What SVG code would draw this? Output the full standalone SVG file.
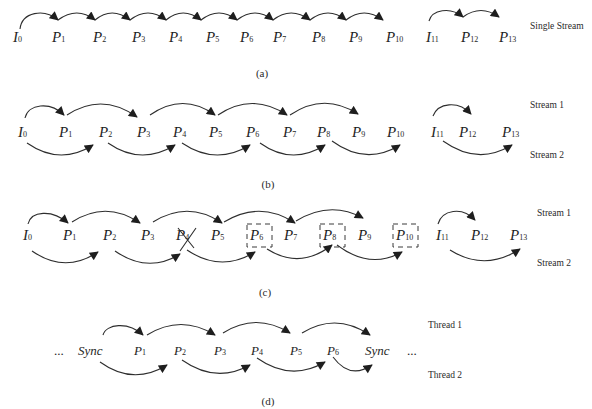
<svg xmlns="http://www.w3.org/2000/svg" width="592" height="409" viewBox="0 0 592 409">
<style>
.bg{fill:#ffffff}
text{font-family:'Liberation Serif','Times New Roman','DejaVu Serif',serif}
.p{font-style:italic;font-size:15px;fill:#1e1e1e}
.pd{font-style:italic;font-size:13px;fill:#1e1e1e}
.s{font-size:8px;font-style:normal}
.lbl{font-size:9.5px;fill:#2a2a2a}
.cap{font-size:11px;fill:#2a2a2a}
.arc{fill:none;stroke:#2e2e2e;stroke-width:1.1;marker-end:url(#ah)}
.ln{fill:none;stroke:#2e2e2e;stroke-width:1.1}
.box{fill:none;stroke:#3a3a3a;stroke-width:1;stroke-dasharray:5 4}
</style>
<defs>
<marker id="ah" viewBox="0 0 10 10" refX="9" refY="5" markerWidth="10" markerHeight="9" markerUnits="userSpaceOnUse" orient="auto">
<path d="M0,0 L10,5 L0,10 z" fill="#1e1e1e"/>
</marker>
</defs>
<rect class="bg" width="592" height="409"/>

<!-- Row (a) -->
<g id="a-I0"><text class="p" x="13" y="42">I<tspan class="s">0</tspan></text></g>
<g id="a-P1"><text class="p" x="52" y="42">P<tspan class="s">1</tspan></text></g>
<g id="a-P2"><text class="p" x="93" y="42">P<tspan class="s">2</tspan></text></g>
<g id="a-P3"><text class="p" x="132" y="42">P<tspan class="s">3</tspan></text></g>
<g id="a-P4"><text class="p" x="169" y="42">P<tspan class="s">4</tspan></text></g>
<g id="a-P5"><text class="p" x="206" y="42">P<tspan class="s">5</tspan></text></g>
<g id="a-P6"><text class="p" x="240" y="42">P<tspan class="s">6</tspan></text></g>
<g id="a-P7"><text class="p" x="273" y="42">P<tspan class="s">7</tspan></text></g>
<g id="a-P8"><text class="p" x="312" y="42">P<tspan class="s">8</tspan></text></g>
<g id="a-P9"><text class="p" x="349" y="42">P<tspan class="s">9</tspan></text></g>
<g id="a-P10"><text class="p" x="386" y="42">P<tspan class="s">10</tspan></text></g>
<g id="a-I11"><text class="p" x="426" y="42">I<tspan class="s">11</tspan></text></g>
<g id="a-P12"><text class="p" x="461" y="42">P<tspan class="s">12</tspan></text></g>
<g id="a-P13"><text class="p" x="499" y="42">P<tspan class="s">13</tspan></text></g>
<g id="a-label"><text class="lbl" x="530" y="29">Single Stream</text></g>
<g id="a-cap"><text class="cap" x="262" y="77" text-anchor="middle">(a)</text></g>

<!-- Row (b) -->
<g id="b-I0"><text class="p" x="18" y="137">I<tspan class="s">0</tspan></text></g>
<g id="b-P1"><text class="p" x="59" y="137">P<tspan class="s">1</tspan></text></g>
<g id="b-P2"><text class="p" x="99" y="137">P<tspan class="s">2</tspan></text></g>
<g id="b-P3"><text class="p" x="137" y="137">P<tspan class="s">3</tspan></text></g>
<g id="b-P4"><text class="p" x="173" y="137">P<tspan class="s">4</tspan></text></g>
<g id="b-P5"><text class="p" x="209" y="137">P<tspan class="s">5</tspan></text></g>
<g id="b-P6"><text class="p" x="246" y="137">P<tspan class="s">6</tspan></text></g>
<g id="b-P7"><text class="p" x="283" y="137">P<tspan class="s">7</tspan></text></g>
<g id="b-P8"><text class="p" x="317" y="137">P<tspan class="s">8</tspan></text></g>
<g id="b-P9"><text class="p" x="352" y="137">P<tspan class="s">9</tspan></text></g>
<g id="b-P10"><text class="p" x="387" y="137">P<tspan class="s">10</tspan></text></g>
<g id="b-I11"><text class="p" x="431" y="137">I<tspan class="s">11</tspan></text></g>
<g id="b-P12"><text class="p" x="459" y="137">P<tspan class="s">12</tspan></text></g>
<g id="b-P13"><text class="p" x="502" y="137">P<tspan class="s">13</tspan></text></g>
<g id="b-s1"><text class="lbl" x="530" y="108">Stream 1</text></g>
<g id="b-s2"><text class="lbl" x="530" y="158">Stream 2</text></g>
<g id="b-cap"><text class="cap" x="268" y="188" text-anchor="middle">(b)</text></g>

<!-- Row (c) -->
<g id="c-I0"><text class="p" x="23" y="240">I<tspan class="s">0</tspan></text></g>
<g id="c-P1"><text class="p" x="63" y="240">P<tspan class="s">1</tspan></text></g>
<g id="c-P2"><text class="p" x="103" y="240">P<tspan class="s">2</tspan></text></g>
<g id="c-P3"><text class="p" x="141" y="240">P<tspan class="s">3</tspan></text></g>
<g id="c-P4"><text class="p" x="176" y="240">P<tspan class="s">4</tspan></text>
<path class="ln" d="M178,228 L194,248 M196,228 L180,251"/></g>
<g id="c-P5"><text class="p" x="211" y="240">P<tspan class="s">5</tspan></text></g>
<g id="c-P6"><rect class="box" x="247" y="224" width="25" height="23"/><text class="p" x="250" y="240">P<tspan class="s">6</tspan></text></g>
<g id="c-P7"><text class="p" x="284" y="240">P<tspan class="s">7</tspan></text></g>
<g id="c-P8"><rect class="box" x="320" y="224" width="25" height="23"/><text class="p" x="323" y="240">P<tspan class="s">8</tspan></text></g>
<g id="c-P9"><text class="p" x="358" y="240">P<tspan class="s">9</tspan></text></g>
<g id="c-P10"><rect class="box" x="393" y="224" width="25" height="23"/><text class="p" x="396" y="240">P<tspan class="s">10</tspan></text></g>
<g id="c-I11"><text class="p" x="436" y="240">I<tspan class="s">11</tspan></text></g>
<g id="c-P12"><text class="p" x="471" y="240">P<tspan class="s">12</tspan></text></g>
<g id="c-P13"><text class="p" x="510" y="240">P<tspan class="s">13</tspan></text></g>
<g id="c-s1"><text class="lbl" x="537" y="216">Stream 1</text></g>
<g id="c-s2"><text class="lbl" x="537" y="266">Stream 2</text></g>
<g id="c-cap"><text class="cap" x="265" y="296" text-anchor="middle">(c)</text></g>

<!-- Row (d) -->
<g id="d-dots1"><text class="pd" x="54" y="355" style="font-style:normal">...</text></g>
<g id="d-Sync1"><text class="pd" x="78" y="355">Sync</text></g>
<g id="d-P1"><text class="pd" x="134" y="355">P<tspan class="s">1</tspan></text></g>
<g id="d-P2"><text class="pd" x="174" y="355">P<tspan class="s">2</tspan></text></g>
<g id="d-P3"><text class="pd" x="214" y="355">P<tspan class="s">3</tspan></text></g>
<g id="d-P4"><text class="pd" x="251" y="355">P<tspan class="s">4</tspan></text></g>
<g id="d-P5"><text class="pd" x="290" y="355">P<tspan class="s">5</tspan></text></g>
<g id="d-P6"><text class="pd" x="327" y="355">P<tspan class="s">6</tspan></text></g>
<g id="d-Sync2"><text class="pd" x="365" y="355">Sync</text></g>
<g id="d-dots2"><text class="pd" x="407" y="355" style="font-style:normal">...</text></g>
<g id="d-t1"><text class="lbl" x="428" y="328">Thread 1</text></g>
<g id="d-t2"><text class="lbl" x="428" y="378">Thread 2</text></g>
<g id="d-cap"><text class="cap" x="268" y="405" text-anchor="middle">(d)</text></g>

<g id="connectors">
<!-- (a) -->
<path class="arc" d="M20,29 C22,12 44,8 58,20"/>
<path class="arc" d="M58,20 Q77,6 95,20"/>
<path class="arc" d="M95,20 Q112,6 130,20"/>
<path class="arc" d="M130,20 Q148,6 166,20"/>
<path class="arc" d="M166,20 Q183,6 201,20"/>
<path class="arc" d="M201,20 Q219,6 237,20"/>
<path class="arc" d="M237,20 Q255,6 273,20"/>
<path class="arc" d="M273,20 Q291,6 310,20"/>
<path class="arc" d="M310,20 Q328,6 346,20"/>
<path class="arc" d="M346,20 Q364,6 383,20"/>
<path class="arc" d="M429,21 C432,10 450,6 463,17"/>
<path class="arc" d="M463,17 Q481,4 499,17"/>
<!-- (b) top -->
<path class="arc" d="M25,118 C28,104 50,101 64,115"/>
<path class="arc" d="M67,115 Q102,92 137,117"/>
<path class="arc" d="M150,115 Q183,92 215,115"/>
<path class="arc" d="M218,115 Q252,92 287,115"/>
<path class="arc" d="M290,115 Q324,92 358,114"/>
<path class="arc" d="M433,116 C438,103 458,100 471,114"/>
<!-- (b) bottom -->
<path class="arc" d="M27,143 Q60,166 93,145"/>
<path class="arc" d="M108,143 Q141,166 175,145"/>
<path class="arc" d="M182,143 Q216,166 250,145"/>
<path class="arc" d="M260,143 Q292,166 325,145"/>
<path class="arc" d="M332,141 Q366,166 400,145"/>
<path class="arc" d="M443,141 Q478,166 512,145"/>
<!-- (c) top -->
<path class="arc" d="M28,224 C31,211 52,209 68,223"/>
<path class="arc" d="M72,222 Q106,200 140,223"/>
<path class="arc" d="M153,222 Q188,200 222,223"/>
<path class="arc" d="M224,222 Q260,200 295,223"/>
<path class="arc" d="M296,221 Q330,200 363,218"/>
<path class="arc" d="M438,224 C442,210 462,206 475,220"/>
<!-- (c) bottom -->
<path class="arc" d="M32,251 Q65,274 98,252"/>
<path class="arc" d="M115,251 Q148,274 180,254"/>
<path class="arc" d="M187,250 Q221,273 255,252"/>
<path class="arc" d="M267,249 Q300,270 332,245"/>
<path class="arc" d="M337,245 Q370,270 402,252"/>
<path class="arc" d="M450,250 Q485,272 520,249"/>
<!-- (d) top -->
<path class="arc" d="M103,335 C106,324 128,321 143,335"/>
<path class="arc" d="M147,335 Q181,314 215,335"/>
<path class="arc" d="M223,333 Q256,312 290,333"/>
<path class="arc" d="M302,333 Q336,312 370,335"/>
<!-- (d) bottom -->
<path class="arc" d="M100,362 Q133,386 167,365"/>
<path class="arc" d="M182,360 Q216,384 250,365"/>
<path class="arc" d="M257,358 Q291,382 325,362"/>
<path class="arc" d="M333,357 Q350,380 372,365"/>
</g>
</svg>
